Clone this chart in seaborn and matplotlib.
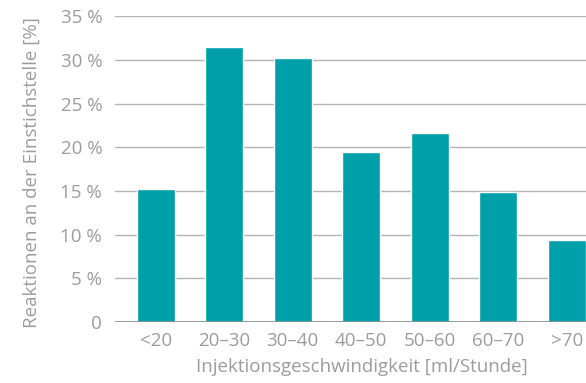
import matplotlib
matplotlib.use("Agg")
import matplotlib.pyplot as plt
import seaborn as sns
import pandas as pd

categories = ["<20", "20–30", "30–40", "40–50", "50–60", "60–70", ">70"]
values = [15.2, 31.5, 30.2, 19.5, 21.7, 14.9, 9.4]
y_ticks = [0, 5, 10, 15, 20, 25, 30, 35]
y_tick_labels = ["0", "5 %", "10 %", "15 %", "20 %", "25 %", "30 %", "35 %"]

df = pd.DataFrame({"Geschwindigkeit": categories, "Reaktionen": values})

sns.set_theme(style="white")
plt.rcParams["font.family"] = ["Open Sans", "DejaVu Sans"]

text_grey = "#9c9c9c"
grid_grey = "#b4b4b4"
bar_teal = "#00a0aa"

fig = plt.figure(figsize=(5.86, 3.83), dpi=100)
ax = fig.add_axes([0.1957, 0.1593, 0.8043, 0.7977])

sns.barplot(data=df, x="Geschwindigkeit", y="Reaktionen", color=bar_teal,
            saturation=1, width=0.555, ax=ax, zorder=3)

ax.set_ylim(0, 35)
ax.set_xlim(-0.6, 6.28)
ax.set_yticks(y_ticks)
ax.set_yticklabels(y_tick_labels)
ax.yaxis.grid(True, color=grid_grey, linewidth=1.0, zorder=0)
ax.axhline(0, color="#8c8c8c", linewidth=1.2, zorder=4)
for s in ax.spines.values():
    s.set_visible(False)
ax.tick_params(axis="both", length=0, labelsize=13.5, colors=text_grey)
ax.tick_params(axis="y", pad=9)
ax.tick_params(axis="x", pad=7)

ax.set_xlabel("Injektionsgeschwindigkeit [ml/Stunde]", fontsize=13.5,
              color=text_grey, va="center")
ax.xaxis.set_label_coords(0.5237, -0.147)
ax.set_ylabel("Reaktionen an der Einstichstelle [%]", fontsize=13.5,
              color=text_grey, va="center")
ax.yaxis.set_label_coords(-0.1755, 0.488)
for lab in ax.get_xticklabels() + ax.get_yticklabels():
    lab.set_color(text_grey)

fig.savefig("out.png", dpi=100)
